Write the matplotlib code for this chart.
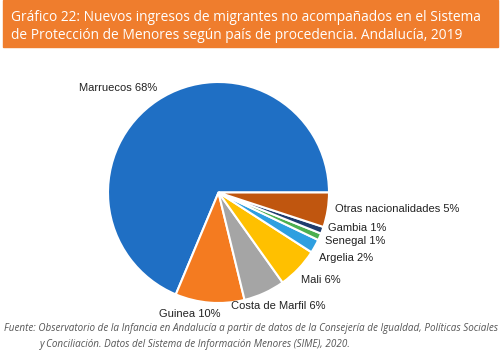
import matplotlib.pyplot as plt
from matplotlib.patches import Rectangle

# data
paises = ['Marruecos', 'Guinea', 'Costa de Marfil', 'Mali', 'Argelia',
          'Senegal', 'Gambia', 'Otras nacionalidades']
porcentajes = [68, 10, 6, 6, 2, 1, 1, 5]
colores = ['#1f6fc4', '#f47b20', '#a5a5a5', '#ffc000', '#2e9fe0',
           '#4caf50', '#1f3d6e', '#c0560f']

titulo = ('Gráfico 22: Nuevos ingresos de migrantes no acompañados en el Sistema\n'
          'de Protección de Menores según país de procedencia. Andalucía, 2019')
fuente1 = ('Fuente: Observatorio de la Infancia en Andalucía a partir de datos de la '
           'Consejería de Igualdad, Políticas Sociales')
fuente2 = 'y Conciliación. Datos del Sistema de Información Menores (SIME), 2020.'

# label positions (pie data coords) and alignment
label_pos = [(-0.91, 0.95, 'center'), (-0.26, -1.10, 'center'), (0.11, -1.03, 'left'),
             (0.75, -0.79, 'left'), (0.91, -0.59, 'left'), (0.96, -0.44, 'left'),
             (0.99, -0.32, 'left'), (1.05, -0.15, 'left')]

W, H = 504, 364
fig = plt.figure(figsize=(W / 100, H / 100), dpi=100)

# orange header band
fig.patches.append(Rectangle((3 / W, 1 - 47 / H), 495 / W, 47 / H,
                             transform=fig.transFigure, color='#ef7d2d', zorder=0))
fig.text(11 / W, 1 - 26.5 / H, titulo, color='white', fontsize=9.9,
         family='Open Sans', va='center', ha='left', linespacing=1.3)

ax = fig.add_axes([108 / W, 1 - 303 / H, 221 / W, 221 / H])
ax.pie(porcentajes, colors=colores, startangle=0, counterclock=True,
       wedgeprops=dict(edgecolor='white', linewidth=1.5))
ax.set_xlim(-1, 1)
ax.set_ylim(-1, 1)
ax.set_aspect('equal')
ax.axis('off')

for name, pct, (x, y, ha) in zip(paises, porcentajes, label_pos):
    ax.text(x, y, '{0} {1}%'.format(name, pct), ha=ha, va='center',
            fontsize=8, family='Liberation Sans', color='#222222')

fig.text(4 / W, 1 - 329 / H, fuente1, fontsize=7.1, style='italic',
         family='Open Sans', color='#555555', va='center')
fig.text(40 / W, 1 - 344 / H, fuente2, fontsize=7.1, style='italic',
         family='Open Sans', color='#555555', va='center')

fig.savefig('out.png', dpi=100)
